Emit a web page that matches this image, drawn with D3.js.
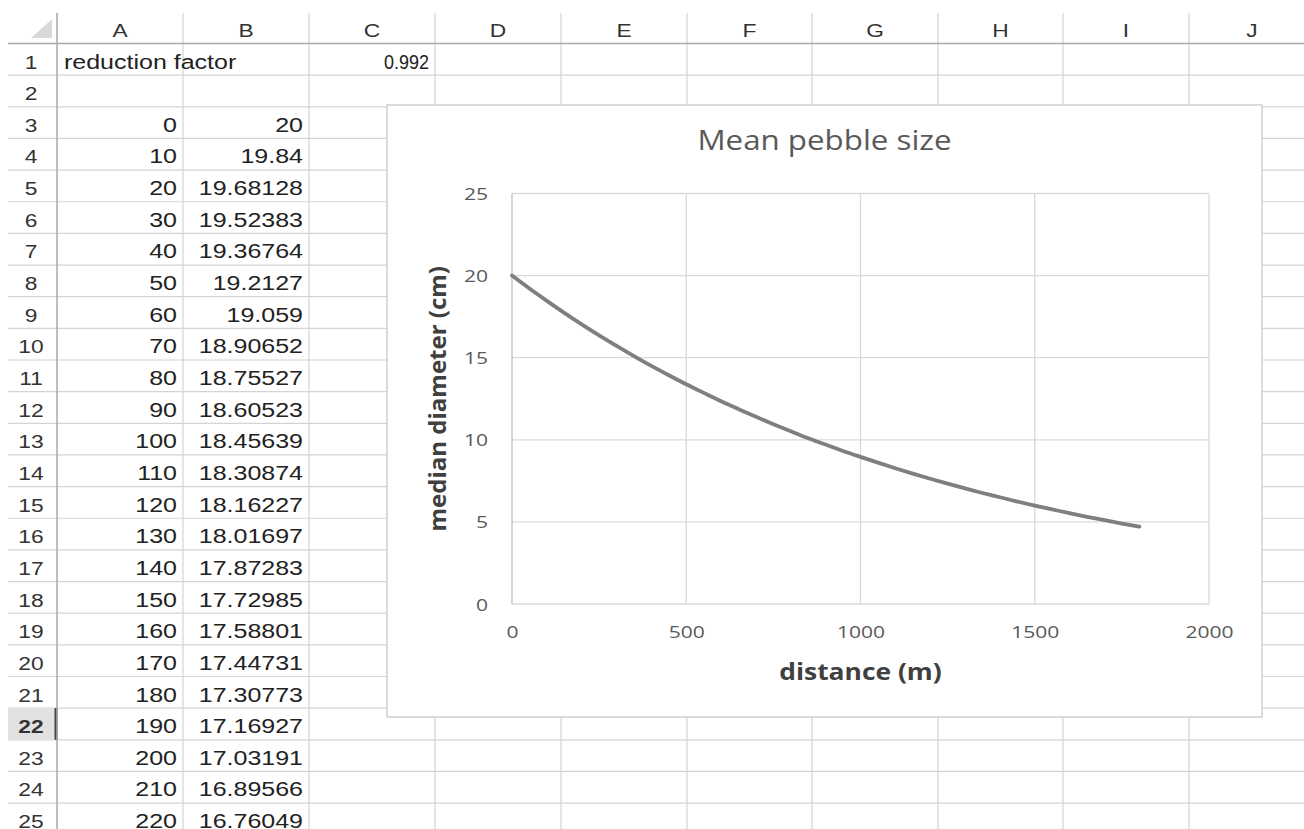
<!DOCTYPE html>
<html>
<head>
<meta charset="utf-8">
<script src="https://cdn.jsdelivr.net/npm/d3@7"></script>
<style>
  body { margin: 0; background: #fff; }
  svg { display: block; }
</style>
</head>
<body>
<div id="sheet"></div>
<script>
// spreadsheet content
const colLetters = ['A', 'B', 'C', 'D', 'E', 'F', 'G', 'H', 'I', 'J'];
const rowNumbers = [1, 2, 3, 4, 5, 6, 7, 8, 9, 10, 11, 12, 13, 14, 15, 16, 17, 18, 19, 20, 21, 22, 23, 24, 25];
const factorLabel = 'reduction factor';
const factorValue = '0.992';
const distanceCol = [0, 10, 20, 30, 40, 50, 60, 70, 80, 90, 100, 110, 120, 130, 140, 150, 160, 170, 180, 190, 200, 210, 220];
const diameterCol = ['20', '19.84', '19.68128', '19.52383', '19.36764', '19.2127', '19.059', '18.90652',
  '18.75527', '18.60523', '18.45639', '18.30874', '18.16227', '18.01697', '17.87283', '17.72985',
  '17.58801', '17.44731', '17.30773', '17.16927', '17.03191', '16.89566', '16.76049'];
const activeRow = 22;

// chart content
const chartTitle = 'Mean pebble size';
const xTitle = 'distance (m)';
const yTitle = 'median diameter (cm)';
const xTicks = [0, 500, 1000, 1500, 2000];
const yTicks = [0, 5, 10, 15, 20, 25];
const seriesDistance = [0, 50, 100, 150, 200, 250, 300, 350, 400, 450, 500, 550, 600, 650, 700, 750, 800, 850,
  900, 950, 1000, 1050, 1100, 1150, 1200, 1250, 1300, 1350, 1400, 1450, 1500, 1550, 1600, 1650, 1700, 1750, 1800];
const seriesDiameter = [20, 19.21, 18.46, 17.73, 17.03, 16.36, 15.72, 15.10, 14.50, 13.93, 13.38, 12.86, 12.35,
  11.87, 11.40, 10.95, 10.52, 10.10, 9.71, 9.32, 8.96, 8.61, 8.27, 7.94, 7.63, 7.33, 7.04, 6.76, 6.50, 6.24,
  5.99, 5.76, 5.53, 5.31, 5.11, 4.90, 4.71];

const width = 1304;
const height = 829;
const colEdges = [57, 183, 309, 435, 561, 687, 812, 938, 1063, 1189, 1315];
const headerTop = 13;
const gridTop = 43.5;
const rowH = 31.65;
const rowTop = (r) => gridTop + (r - 1) * rowH;

const svg = d3.select('#sheet').append('svg')
  .attr('width', width)
  .attr('height', height);
svg.append('rect').attr('width', width).attr('height', height).attr('fill', '#fff');

// stretched text helper (screenshot is wider than tall)
function label(g, x, y, str, o) {
  return g.append('text')
    .attr('transform', `translate(${x},${y}) scale(${o.sx || 1},1)`)
    .attr('text-anchor', o.anchor || 'start')
    .attr('font-family', o.font || 'Liberation Sans, Arial, sans-serif')
    .attr('font-size', o.size)
    .attr('font-weight', o.weight || 'normal')
    .attr('fill', o.color || '#222')
    .text(str);
}

// ---- sheet grid
const grid = svg.append('g').attr('class', 'sheet-grid');
rowNumbers.forEach((r) => {
  grid.append('line')
    .attr('x1', 8).attr('x2', width)
    .attr('y1', rowTop(r) + rowH).attr('y2', rowTop(r) + rowH)
    .attr('stroke', '#d4d4d4').attr('stroke-width', 1.2);
});
colEdges.slice(1).forEach((cx) => {
  grid.append('line')
    .attr('x1', cx).attr('x2', cx)
    .attr('y1', headerTop).attr('y2', height)
    .attr('stroke', '#d4d4d4').attr('stroke-width', 1.2);
});

// active row header
const act = rowTop(activeRow);
grid.append('rect')
  .attr('x', 8).attr('y', act)
  .attr('width', 49).attr('height', rowH)
  .attr('fill', '#e1e1e1');
grid.append('line')
  .attr('x1', 56).attr('x2', 56)
  .attr('y1', act).attr('y2', act + rowH)
  .attr('stroke', '#444').attr('stroke-width', 3);

// header separators
grid.append('line')
  .attr('x1', 8).attr('x2', width)
  .attr('y1', gridTop).attr('y2', gridTop)
  .attr('stroke', '#a9a9a9').attr('stroke-width', 1.5);
grid.append('line')
  .attr('x1', 57).attr('x2', 57)
  .attr('y1', headerTop).attr('y2', height)
  .attr('stroke', '#a9a9a9').attr('stroke-width', 1.5);
grid.append('path')
  .attr('d', 'M52,19 L52,38 L31,38 Z')
  .attr('fill', '#d9d9d9');

// header letters and row numbers
const heads = svg.append('g').attr('class', 'sheet-heads');
colLetters.forEach((c, i) => {
  label(heads, (colEdges[i] + colEdges[i + 1]) / 2, 37, c, { size: 19, sx: 1.2, anchor: 'middle', color: '#333' });
});
rowNumbers.forEach((r) => {
  label(heads, 31, rowTop(r) + 25, r, {
    size: 19, sx: 1.2, anchor: 'middle', color: '#333',
    weight: r === activeRow ? 'bold' : 'normal',
  });
});

// cell values
const cells = svg.append('g').attr('class', 'sheet-cells');
label(cells, colEdges[0] + 7, rowTop(1) + 25, factorLabel, { size: 20, sx: 1.25 });
label(cells, colEdges[3] - 6, rowTop(1) + 25, factorValue, { size: 20, sx: 0.9, anchor: 'end' });
distanceCol.forEach((d, i) => {
  label(cells, colEdges[1] - 6, rowTop(i + 3) + 25, d, { size: 20, sx: 1.25, anchor: 'end' });
  label(cells, colEdges[2] - 6, rowTop(i + 3) + 25, diameterCol[i], { size: 20, sx: 1.25, anchor: 'end' });
});

// ---- chart object
const box = { x: 387, y: 105, w: 875, h: 612 };
const chart = svg.append('g').attr('class', 'chart');
chart.append('rect')
  .attr('x', box.x).attr('y', box.y)
  .attr('width', box.w).attr('height', box.h)
  .attr('fill', '#fff')
  .attr('stroke', '#d0d0d0').attr('stroke-width', 1.5);

const plot = { l: 512, r: 1209, t: 193.5, b: 604 };
const x = d3.scaleLinear().domain([0, 2000]).range([plot.l, plot.r]);
const y = d3.scaleLinear().domain([0, 25]).range([plot.b, plot.t]);

// gridlines
chart.append('g').attr('class', 'y-grid')
  .selectAll('line')
  .data(yTicks)
  .join('line')
  .attr('x1', plot.l).attr('x2', plot.r)
  .attr('y1', (d) => y(d)).attr('y2', (d) => y(d))
  .attr('stroke', '#d9d9d9').attr('stroke-width', 1.3);
chart.append('g').attr('class', 'x-grid')
  .selectAll('line')
  .data(xTicks)
  .join('line')
  .attr('x1', (d) => x(d)).attr('x2', (d) => x(d))
  .attr('y1', plot.t).attr('y2', plot.b)
  .attr('stroke', (d) => d === 0 ? '#bfbfbf' : '#d9d9d9')
  .attr('stroke-width', 1.3);

// axes
const yAxis = chart.append('g')
  .attr('transform', `translate(${plot.l},0)`)
  .call(d3.axisLeft(y).tickValues(yTicks).tickSize(0).tickFormat(d3.format('d')))
  .call((g) => g.select('.domain').remove());
yAxis.selectAll('text')
  .attr('x', 0).attr('dy', null)
  .attr('transform', 'translate(-24,6) scale(1.24,1)')
  .attr('font-family', 'Open Sans, sans-serif')
  .attr('font-size', 17)
  .attr('fill', '#595959');

const xAxis = chart.append('g')
  .attr('transform', `translate(0,${plot.b})`)
  .call(d3.axisBottom(x).tickValues(xTicks).tickSize(0).tickFormat(d3.format('d')))
  .call((g) => g.select('.domain').remove());
xAxis.selectAll('text')
  .attr('y', 0).attr('dy', null)
  .attr('transform', 'translate(0,34) scale(1.24,1)')
  .attr('font-family', 'Open Sans, sans-serif')
  .attr('font-size', 17)
  .attr('fill', '#595959');

// series line
const line = d3.line()
  .x((d, i) => x(seriesDistance[i]))
  .y((d) => y(d))
  .curve(d3.curveMonotoneX);
chart.append('path')
  .datum(seriesDiameter)
  .attr('d', line)
  .attr('fill', 'none')
  .attr('stroke', '#7f7f7f')
  .attr('stroke-width', 3.8)
  .attr('stroke-linecap', 'round');

// titles
label(chart, box.x + box.w / 2, 150, chartTitle, {
  font: 'Open Sans, sans-serif', size: 27, sx: 1.16, anchor: 'middle', color: '#595959',
});
label(chart, (plot.l + plot.r) / 2, 680, xTitle, {
  font: 'Open Sans, sans-serif', size: 24, sx: 1.1, anchor: 'middle', color: '#404040', weight: 'bold',
});
chart.append('text')
  .attr('transform', `translate(446,${(plot.t + plot.b) / 2}) rotate(-90)`)
  .attr('text-anchor', 'middle')
  .attr('font-family', 'Open Sans, sans-serif')
  .attr('font-size', 24)
  .attr('font-weight', 'bold')
  .attr('fill', '#404040')
  .text(yTitle);
</script>
</body>
</html>
